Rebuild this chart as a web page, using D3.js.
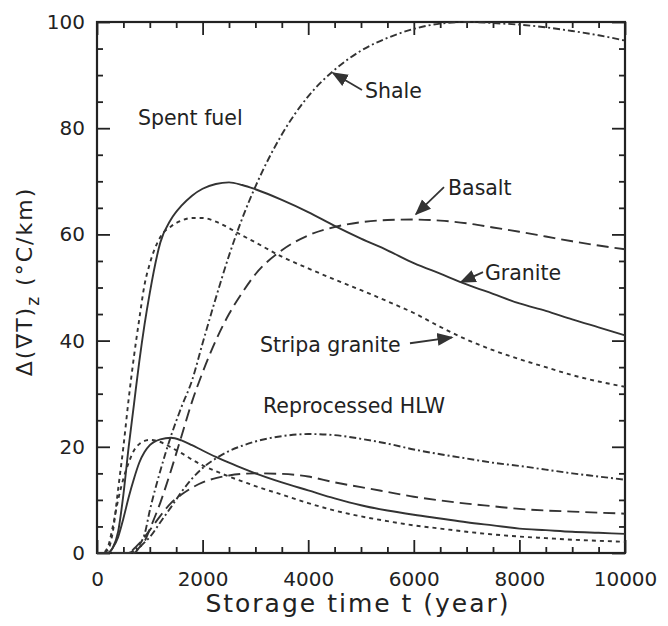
<!DOCTYPE html>
<html>
<head>
<meta charset="utf-8">
<script src="https://cdn.jsdelivr.net/npm/d3@7"></script>
<style>
  body { margin: 0; background: #fff; }
  text { font-family: "DejaVu Sans", sans-serif; fill: #222; }
</style>
</head>
<body>
<div id="chart"></div>
<script>
// storage time grid (years)
const years = [0, 100, 200, 300, 400, 500, 600, 700, 800, 900, 1000, 1200, 1400, 1600, 1800, 2000,
  2250, 2500, 2750, 3000, 3500, 4000, 4500, 5000, 5500, 6000, 6500, 7000, 7500, 8000, 8500, 9000, 9500, 10000];

// spent fuel
const graniteSF = [0, 0, 0, 1, 4, 11, 20, 28, 36, 43, 49, 58.5, 62.8, 65.4, 67.3, 68.6,
  69.5, 69.8, 69.3, 68.5, 66.5, 64.2, 61.6, 59.2, 57, 54.6, 52.6, 50.6, 48.8, 47, 45.6, 44, 42.5, 41];
const stripaSF = [0, 0, 0.5, 4, 12, 20, 29, 37, 44, 50.5, 54.5, 59.5, 61.5, 62.6, 63.1, 63.1,
  62.4, 61.2, 59.8, 58.5, 55.8, 53.6, 51.5, 49.5, 47.4, 45.2, 42.6, 40.2, 38.2, 36.5, 35, 33.5, 32.3, 31.3];
const shaleSF = [0, 0, 0, 0, 0, 0, 0, 0.5, 1.5, 3.5, 8, 15.5, 22, 27.5, 32.5, 39.5,
  48, 56, 63, 69, 78.8, 86, 91, 94.6, 97, 98.7, 99.7, 100, 99.8, 99.5, 99, 98.3, 97.5, 96.5];
const basaltSF = [0, 0, 0, 0, 0, 0, 0, 0, 1, 2.2, 4.5, 9.5, 15.5, 22, 28.5, 34,
  40, 45, 49, 52.5, 57, 59.8, 61.4, 62.3, 62.7, 62.8, 62.6, 62.1, 61.3, 60.5, 59.6, 58.7, 57.9, 57.2];

// reprocessed HLW
const graniteHLW = [0, 0, 0, 1, 3, 6.5, 10.5, 14, 17, 19, 20.3, 21.4, 21.7, 21.2, 20.3, 19.3,
  18.1, 17, 16, 15, 13.3, 11.8, 10.3, 9, 8, 7.2, 6.5, 5.8, 5.2, 4.6, 4.3, 4, 3.8, 3.6];
const stripaHLW = [0, 0, 1, 5, 10, 14, 17, 19.3, 20.5, 21.1, 21.3, 20.9, 19.9, 18.8, 17.6, 16.5,
  15.4, 14.4, 13.5, 12.6, 11, 9.4, 8, 6.9, 6, 5.2, 4.6, 4, 3.5, 3.1, 2.8, 2.5, 2.3, 2.1];
const shaleHLW = [0, 0, 0, 0, 0, 0, 0, 0.3, 1, 2, 3, 5.8, 8.6, 11.5, 14, 16,
  17.8, 19.2, 20.2, 21, 22, 22.4, 22.2, 21.5, 20.6, 19.5, 18.6, 17.8, 17, 16.4, 15.7, 15, 14.4, 13.8];
const basaltHLW = [0, 0, 0, 0, 0, 0, 0, 0.8, 1.8, 3, 4.3, 7, 9.4, 11, 12.3, 13.3,
  14.1, 14.6, 14.9, 15, 14.9, 14.4, 13.3, 12.4, 11.5, 10.6, 9.9, 9.3, 8.8, 8.3, 8, 7.8, 7.6, 7.4];

const xTicks = [0, 2000, 4000, 6000, 8000, 10000];
const yTicks = [0, 20, 40, 60, 80, 100];

const series = [
  {values: graniteSF, dash: null},
  {values: stripaSF, dash: "4,4"},
  {values: shaleSF, dash: "7,3,2,3"},
  {values: basaltSF, dash: "12,6"},
  {values: graniteHLW, dash: null},
  {values: stripaHLW, dash: "4,4"},
  {values: shaleHLW, dash: "7,3,2,3"},
  {values: basaltHLW, dash: "12,6"}
];

// labels in data coordinates, arrows from -> to
const labels = [
  {text: "Spent fuel", t: 776, v: 80.6},
  {text: "Shale", t: 5076, v: 85.7, arrow: [[5019, 87.2], [4470, 90.4]]},
  {text: "Basalt", t: 6648, v: 67.4, arrow: [[6572, 68.9], [6042, 63.8]]},
  {text: "Granite", t: 7348, v: 51.4, arrow: [[7311, 52.9], [6894, 51.0]]},
  {text: "Stripa granite", t: 3087, v: 37.9, arrow: [[5928, 39.5], [6723, 40.6]]},
  {text: "Reprocessed HLW", t: 3144, v: 26.4}
];

const margin = {top: 22, right: 43, bottom: 73, left: 97};
const width = 668 - margin.left - margin.right;
const height = 626 - margin.top - margin.bottom;

const svg = d3.select("#chart")
  .append("svg")
  .attr("width", 668)
  .attr("height", 626)
  .append("g")
  .attr("transform", `translate(${margin.left},${margin.top})`);

const x = d3.scaleLinear().domain([0, 10000]).range([0, width]);
const y = d3.scaleLinear().domain([0, 100]).range([height, 0]);

const xMinor = d3.range(0, 10001, 500).filter(d => d % 2000 !== 0);
const yMinor = d3.range(0, 101, 5).filter(d => d % 20 !== 0);

function styleAxis(g) {
  g.select(".domain").remove();
  g.selectAll(".tick line").attr("stroke", "#222").attr("stroke-width", 1.8);
  g.selectAll(".tick text").style("font-size", "20px").attr("fill", "#222");
}

// bottom
svg.append("g").attr("transform", `translate(0,${height})`)
  .call(d3.axisBottom(x).tickValues(xTicks).tickSize(-13).tickPadding(19).tickFormat(d3.format("d")))
  .call(styleAxis);
svg.append("g").attr("transform", `translate(0,${height})`)
  .call(d3.axisBottom(x).tickValues(xMinor).tickSize(-6).tickFormat(""))
  .call(styleAxis);
// top
svg.append("g")
  .call(d3.axisTop(x).tickValues(xTicks).tickSize(-13).tickFormat(""))
  .call(styleAxis);
svg.append("g")
  .call(d3.axisTop(x).tickValues(xMinor).tickSize(-6).tickFormat(""))
  .call(styleAxis);
// left
svg.append("g")
  .call(d3.axisLeft(y).tickValues(yTicks).tickSize(-13).tickPadding(12))
  .call(styleAxis);
svg.append("g")
  .call(d3.axisLeft(y).tickValues(yMinor).tickSize(-6).tickFormat(""))
  .call(styleAxis);
// right
svg.append("g").attr("transform", `translate(${width},0)`)
  .call(d3.axisRight(y).tickValues(yTicks).tickSize(-13).tickFormat(""))
  .call(styleAxis);
svg.append("g").attr("transform", `translate(${width},0)`)
  .call(d3.axisRight(y).tickValues(yMinor).tickSize(-6).tickFormat(""))
  .call(styleAxis);

svg.append("rect")
  .attr("width", width)
  .attr("height", height)
  .attr("fill", "none")
  .attr("stroke", "#222")
  .attr("stroke-width", 2.2);

const line = d3.line()
  .x((d, i) => x(years[i]))
  .y(d => y(d))
  .curve(d3.curveMonotoneX);

svg.selectAll(".curve")
  .data(series)
  .enter().append("path")
  .attr("class", "curve")
  .attr("d", d => line(d.values))
  .attr("fill", "none")
  .attr("stroke", "#333")
  .attr("stroke-width", 1.9)
  .attr("stroke-dasharray", d => d.dash);

svg.append("defs").append("marker")
  .attr("id", "head")
  .attr("viewBox", "0 0 10 10")
  .attr("refX", 9)
  .attr("refY", 5)
  .attr("markerWidth", 9)
  .attr("markerHeight", 9)
  .attr("orient", "auto")
  .append("path")
  .attr("d", "M0,1 L10,5 L0,9 Z")
  .attr("fill", "#333");

labels.forEach(l => {
  svg.append("text")
    .attr("x", x(l.t))
    .attr("y", y(l.v))
    .style("font-size", "20.5px")
    .text(l.text);
  if (l.arrow) {
    svg.append("line")
      .attr("x1", x(l.arrow[0][0]))
      .attr("y1", y(l.arrow[0][1]))
      .attr("x2", x(l.arrow[1][0]))
      .attr("y2", y(l.arrow[1][1]))
      .attr("stroke", "#333")
      .attr("stroke-width", 1.8)
      .attr("marker-end", "url(#head)");
  }
});

// axis titles
svg.append("text")
  .attr("x", width / 2 - 3)
  .attr("y", height + 59)
  .attr("text-anchor", "middle")
  .style("font-size", "25px")
  .style("letter-spacing", "2px")
  .text("Storage time t (year)");

const yt = svg.append("text")
  .attr("transform", `translate(-65,${height / 2 - 6}) rotate(-90)`)
  .attr("text-anchor", "middle")
  .style("font-size", "22px")
  .style("letter-spacing", "2px");
yt.append("tspan").text("Δ(∇T)");
yt.append("tspan").attr("dy", 7).style("font-size", "17px").text("z");
yt.append("tspan").attr("dy", -7).text(" (°C/km)");
</script>
</body>
</html>
